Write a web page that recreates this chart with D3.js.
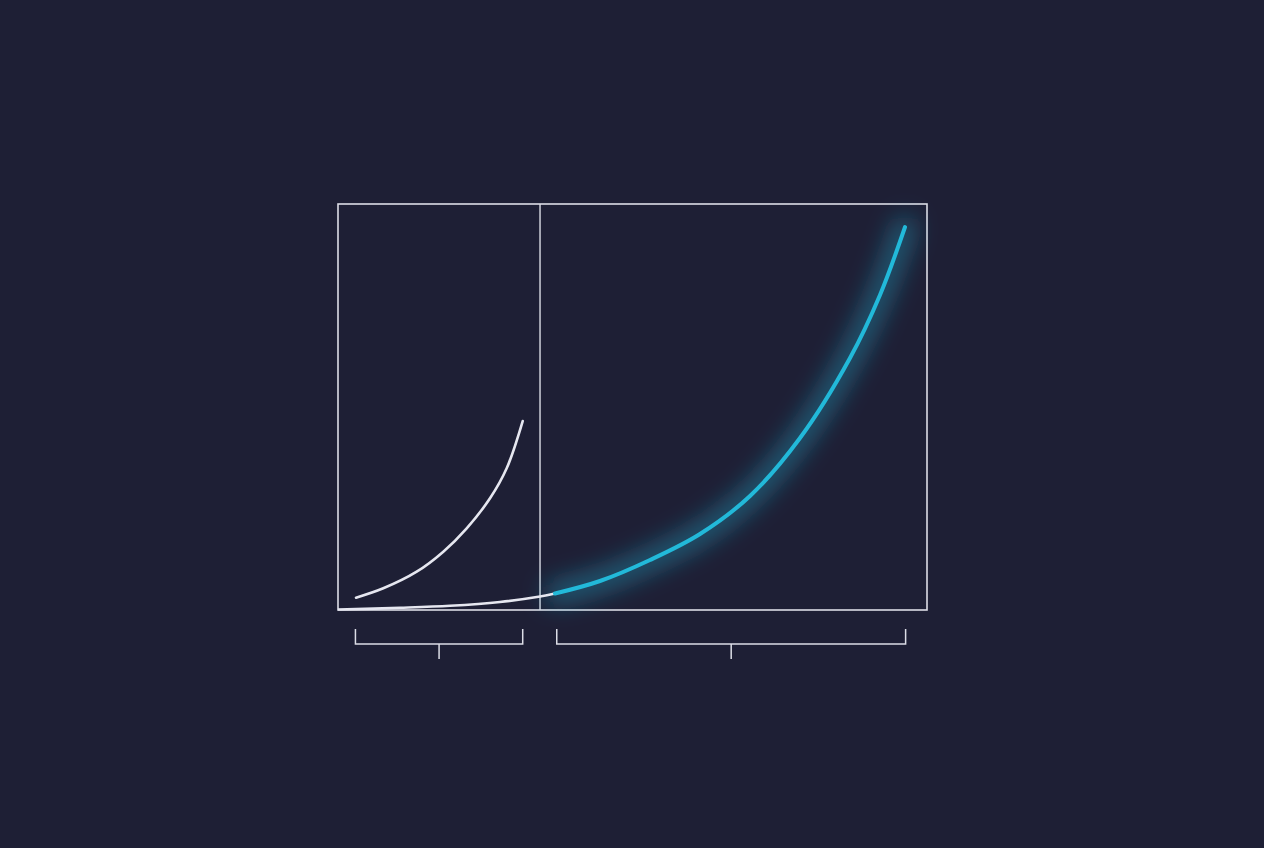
<!DOCTYPE html>
<html>
<head>
<meta charset="utf-8">
<script src="https://cdn.jsdelivr.net/npm/d3@7"></script>
<style>
  html, body { margin: 0; padding: 0; background: #1e1f35; }
  svg { display: block; }
</style>
</head>
<body>
<div id="chart"></div>
<script>
// main curve (x: 0-100 across the frame, y: 0-100 up the frame)
const mainX = [0, 10.53, 19.02, 27.5, 34.3, 36.84, 44.48, 52.97, 61.46, 69.95, 78.44, 86.93, 92.02, 96.27];
const mainY = [0.12, 0.54, 1.03, 1.97, 3.33, 4.06, 7.14, 12.32, 18.72, 28.08, 42.36, 62.07, 77.59, 94.33];

// zoomed-in curve in the left panel
const zoomX = [3.06, 7.69, 13.36, 17.88, 21.85, 25.81, 28.64, 31.36];
const zoomY = [3.03, 5.34, 9.43, 14.36, 20.12, 27.51, 34.9, 46.55];

// where the left panel ends and where the highlighted part starts
const splitAt = 34.3;
const highlightFrom = 36.84;

const width = 1264;
const height = 848;

const svg = d3.select("#chart")
  .append("svg")
  .attr("width", width)
  .attr("height", height);

svg.append("rect")
  .attr("width", width)
  .attr("height", height)
  .attr("fill", "#1e1f35");

const x = d3.scaleLinear().domain([0, 100]).range([338, 927]);
const y = d3.scaleLinear().domain([0, 100]).range([610, 204]);

const defs = svg.append("defs");
defs.append("filter")
  .attr("id", "glow")
  .attr("x", "-50%").attr("y", "-50%")
  .attr("width", "200%").attr("height", "200%")
  .append("feGaussianBlur")
  .attr("stdDeviation", 12);

const line = d3.line()
  .x(d => x(d[0]))
  .y(d => y(d[1]))
  .curve(d3.curveCatmullRom.alpha(0.5));

const mainData = mainX.map((v, i) => [v, mainY[i]]);
const zoomData = zoomX.map((v, i) => [v, zoomY[i]]);
const whitePart = mainData.filter(d => d[0] <= highlightFrom);
const cyanPart = mainData.filter(d => d[0] >= highlightFrom);

const stroke = "#dcdde6";
const cyan = "#22b9d9";

// frame
svg.append("rect")
  .attr("x", x(0))
  .attr("y", y(100))
  .attr("width", x(100) - x(0))
  .attr("height", y(0) - y(100))
  .attr("fill", "none")
  .attr("stroke", stroke)
  .attr("stroke-width", 1.6);

svg.append("line")
  .attr("x1", x(splitAt)).attr("x2", x(splitAt))
  .attr("y1", y(100)).attr("y2", y(0))
  .attr("stroke", stroke)
  .attr("stroke-width", 1.4);

// glow behind highlighted part
svg.append("path")
  .datum(cyanPart)
  .attr("d", line)
  .attr("fill", "none")
  .attr("stroke", cyan)
  .attr("stroke-width", 20)
  .attr("stroke-opacity", 0.45)
  .attr("stroke-linecap", "round")
  .attr("filter", "url(#glow)");

// white part of main curve
svg.append("path")
  .datum(whitePart)
  .attr("d", line)
  .attr("fill", "none")
  .attr("stroke", "#e6e7f0")
  .attr("stroke-width", 2.6);

// highlighted part
svg.append("path")
  .datum(cyanPart)
  .attr("d", line)
  .attr("fill", "none")
  .attr("stroke", cyan)
  .attr("stroke-width", 4)
  .attr("stroke-linecap", "round");

// zoomed curve
svg.append("path")
  .datum(zoomData)
  .attr("d", line)
  .attr("fill", "none")
  .attr("stroke", "#e6e7f0")
  .attr("stroke-width", 2.6)
  .attr("stroke-linecap", "round");

// brackets under the two ranges
const brackets = [
  [d3.min(zoomX) - 0.1, d3.max(zoomX)],
  [highlightFrom + 0.3, d3.max(mainX) + 0.1]
];

const bTop = 629, bBar = 644, bTick = 659;

brackets.forEach(([a, b]) => {
  const x0 = x(a), x1 = x(b), xm = (x0 + x1) / 2;
  svg.append("path")
    .attr("d", `M${x0},${bTop}V${bBar}H${x1}V${bTop}M${xm},${bBar}V${bTick}`)
    .attr("fill", "none")
    .attr("stroke", stroke)
    .attr("stroke-width", 1.5);
});
</script>
</body>
</html>
